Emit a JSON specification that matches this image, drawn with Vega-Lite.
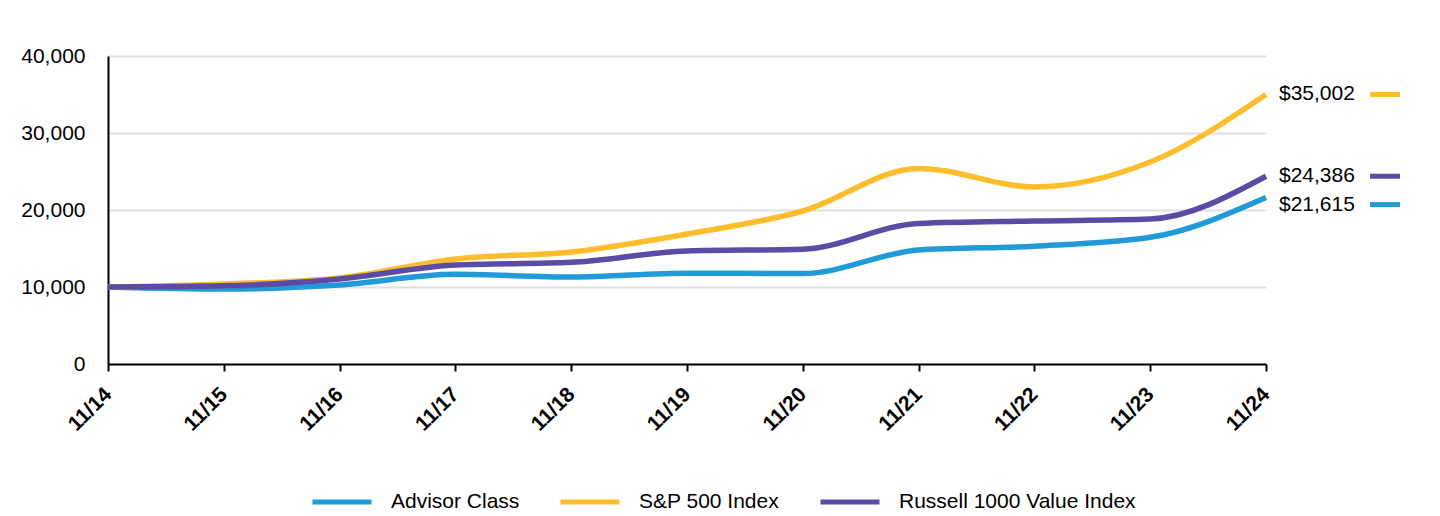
{
  "$schema": "https://vega.github.io/schema/vega-lite/v6.json",
  "autosize": "none",
  "width": 1158,
  "height": 308,
  "padding": {"left": 108, "top": 56, "right": 174, "bottom": 152},
  "background": "white",
  "config": {
    "font": "Liberation Sans",
    "view": {"stroke": null},
    "axis": {"labelFont": "Liberation Sans", "labelColor": "#000000"},
    "legend": {"labelFont": "Liberation Sans"}
  },
  "datasets": {
    "series": [
      {"date": "11/14", "series": "Advisor Class", "value": 10000},
      {"date": "11/15", "series": "Advisor Class", "value": 9740},
      {"date": "11/16", "series": "Advisor Class", "value": 10260},
      {"date": "11/17", "series": "Advisor Class", "value": 11650},
      {"date": "11/18", "series": "Advisor Class", "value": 11300},
      {"date": "11/19", "series": "Advisor Class", "value": 11800},
      {"date": "11/20", "series": "Advisor Class", "value": 11750},
      {"date": "11/21", "series": "Advisor Class", "value": 14800},
      {"date": "11/22", "series": "Advisor Class", "value": 15300},
      {"date": "11/23", "series": "Advisor Class", "value": 16450},
      {"date": "11/24", "series": "Advisor Class", "value": 21615},
      {"date": "11/14", "series": "S&P 500 Index", "value": 10000},
      {"date": "11/15", "series": "S&P 500 Index", "value": 10390},
      {"date": "11/16", "series": "S&P 500 Index", "value": 11170},
      {"date": "11/17", "series": "S&P 500 Index", "value": 13640},
      {"date": "11/18", "series": "S&P 500 Index", "value": 14550},
      {"date": "11/19", "series": "S&P 500 Index", "value": 16880},
      {"date": "11/20", "series": "S&P 500 Index", "value": 19870},
      {"date": "11/21", "series": "S&P 500 Index", "value": 25400},
      {"date": "11/22", "series": "S&P 500 Index", "value": 23000},
      {"date": "11/23", "series": "S&P 500 Index", "value": 26230},
      {"date": "11/24", "series": "S&P 500 Index", "value": 35002},
      {"date": "11/14", "series": "Russell 1000 Value Index", "value": 10000},
      {"date": "11/15", "series": "Russell 1000 Value Index", "value": 10150},
      {"date": "11/16", "series": "Russell 1000 Value Index", "value": 11040},
      {"date": "11/17", "series": "Russell 1000 Value Index", "value": 12860},
      {"date": "11/18", "series": "Russell 1000 Value Index", "value": 13200},
      {"date": "11/19", "series": "Russell 1000 Value Index", "value": 14680},
      {"date": "11/20", "series": "Russell 1000 Value Index", "value": 14900},
      {"date": "11/21", "series": "Russell 1000 Value Index", "value": 18250},
      {"date": "11/22", "series": "Russell 1000 Value Index", "value": 18570},
      {"date": "11/23", "series": "Russell 1000 Value Index", "value": 18830},
      {"date": "11/24", "series": "Russell 1000 Value Index", "value": 24386}
    ]
  },
  "data": {"name": "series"},
  "encoding": {
    "x": {
      "field": "date",
      "type": "ordinal",
      "sort": null,
      "scale": {"type": "point", "padding": 0},
      "axis": {
        "title": null,
        "labelAngle": -45,
        "labelAlign": "right",
        "labelBaseline": "middle",
        "labelFontSize": 21,
        "labelFontWeight": "bold",
        "labelPadding": 20,
        "tickSize": 7,
        "tickColor": "#000000",
        "tickWidth": 2,
        "domainColor": "#000000",
        "domainWidth": 2,
        "grid": false
      }
    },
    "y": {
      "field": "value",
      "type": "quantitative",
      "scale": {"domain": [0, 40000], "nice": false},
      "axis": {
        "title": null,
        "values": [0, 10000, 20000, 30000, 40000],
        "format": ",d",
        "labelFontSize": 21,
        "labelPadding": 23,
        "ticks": false,
        "domainColor": "#000000",
        "domainWidth": 2,
        "grid": true,
        "gridColor": "#e0e0e0",
        "gridWidth": 2
      }
    },
    "color": {
      "field": "series",
      "type": "nominal",
      "scale": {
        "domain": ["Advisor Class", "S&P 500 Index", "Russell 1000 Value Index"],
        "range": ["#219bd8", "#fdbd2c", "#5b4ba5"]
      },
      "legend": {
        "title": null,
        "orient": "none",
        "direction": "horizontal",
        "legendX": 202,
        "legendY": 414,
        "symbolType": "stroke",
        "symbolSize": 3481,
        "symbolStrokeWidth": 5,
        "labelFontSize": 21,
        "labelColor": "#000000",
        "labelOffset": 17,
        "labelLimit": 400,
        "columnPadding": 30,
        "padding": 0
      }
    }
  },
  "layer": [
    {
      "mark": {"type": "line", "strokeWidth": 5.5, "interpolate": "monotone"}
    },
    {
      "transform": [{"filter": "datum.date == '11/24' && datum.series != 'Advisor Class'"}],
      "mark": {"type": "text", "align": "left", "baseline": "middle", "dx": 13, "fontSize": 21, "color": "#000000"},
      "encoding": {
        "text": {"field": "value", "type": "quantitative", "format": "$,.0f"},
        "color": {"value": "#000000"}
      }
    },
    {
      "transform": [{"filter": "datum.date == '11/24' && datum.series == 'Advisor Class'"}],
      "mark": {"type": "text", "align": "left", "baseline": "middle", "dx": 13, "dy": 7, "fontSize": 21, "color": "#000000"},
      "encoding": {
        "text": {"field": "value", "type": "quantitative", "format": "$,.0f"},
        "color": {"value": "#000000"}
      }
    },
    {
      "transform": [{"filter": "datum.date == '11/24' && datum.series != 'Advisor Class'"}],
      "mark": {"type": "tick", "orient": "horizontal", "size": 30, "thickness": 5, "xOffset": 119, "opacity": 1}
    },
    {
      "transform": [{"filter": "datum.date == '11/24' && datum.series == 'Advisor Class'"}],
      "mark": {"type": "tick", "orient": "horizontal", "size": 30, "thickness": 5, "xOffset": 119, "yOffset": 7, "opacity": 1}
    }
  ]
}
